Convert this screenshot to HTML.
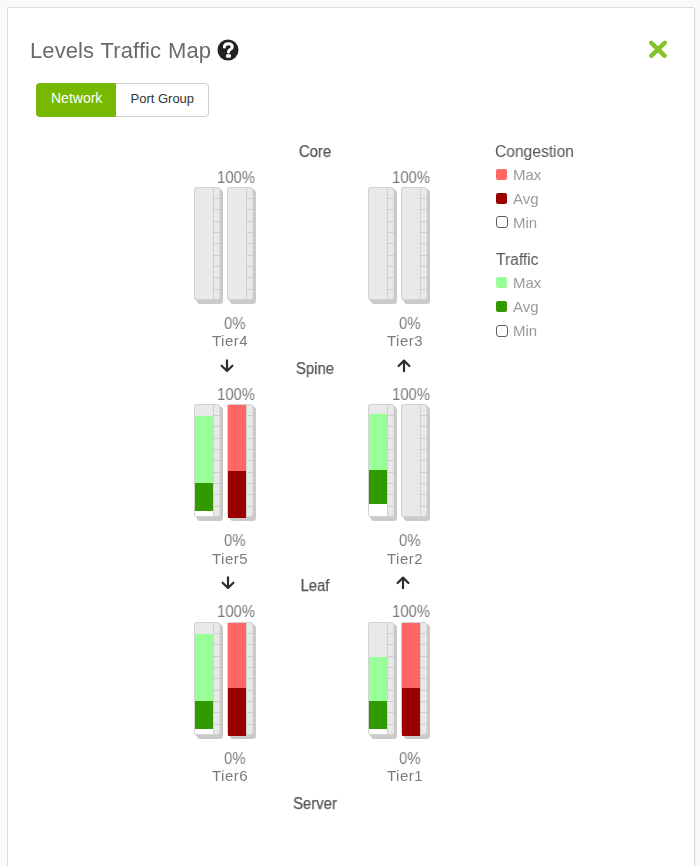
<!DOCTYPE html>
<html><head><meta charset="utf-8"><title>Levels Traffic Map</title>
<style>
html,body{margin:0;padding:0;}
body{width:700px;height:866px;overflow:hidden;background:#fafafa;font-family:"Liberation Sans",Arial,sans-serif;position:relative;}
.card{position:absolute;left:7px;top:7px;width:686px;height:870px;background:#fff;border:1px solid #dcdcdc;border-radius:2px;box-shadow:1px 1px 1px rgba(0,0,0,0.05);}
.t{position:absolute;line-height:1;white-space:nowrap;will-change:transform;}
.title{left:30px;top:40px;font-size:22px;color:#6a6a6a;letter-spacing:0.1px;word-spacing:0.6px;}
.help{position:absolute;left:217.2px;top:39.4px;width:22px;height:22px;will-change:transform;}
.close{position:absolute;left:648px;top:40.4px;width:20px;height:19px;}
.btn{position:absolute;line-height:1;box-sizing:border-box;top:83px;height:34px;}
.b1{left:36px;width:80px;background:#76b900;border-radius:4px 0 0 4px;font-size:14px;}
.b1 span{position:absolute;left:15px;top:8px;color:#fff;}
.b2{left:116px;width:93px;border:1px solid #cfcfcf;border-left:0;border-radius:0 4px 4px 0;font-size:13px;}
.b2 span{position:absolute;left:14.5px;top:7.5px;color:#333;}
.lvl{font-size:16px;color:#555;margin-top:0.5px;-webkit-text-stroke:0.25px #555;width:120px;text-align:center;left:255px;transform:scaleX(0.93);}
.pct{font-size:16px;color:#7a7a7a;transform-origin:0 0;transform:scaleX(0.93);}
.tier{font-size:15px;color:#7a7a7a;letter-spacing:0.5px;}
.bar{position:absolute;width:24px;height:111px;border:1px solid #d2d2d2;border-right-color:#dedede;border-radius:3px;background:#e9e9e9;box-shadow:1px 1px 0 #cacaca,2px 2px 0 #cacaca,3px 3px 0 #cacaca,3px 4px 0 #cacaca;}
.bar .dv{position:absolute;left:18px;top:0;bottom:0;width:1px;background:#d0d0d0;}
.bar .tk{position:absolute;left:19px;width:6px;height:1px;background:#cdcdcd;}
.fill{position:absolute;}
.lg{font-size:16px;color:#555;transform-origin:0 0;transform:scaleX(0.975);}
.li{font-size:15px;color:#9a9a9a;}
.sq{position:absolute;width:11px;height:11px;border-radius:2px;box-sizing:border-box;}
.sqm{width:12px;height:12px;border:1.8px solid #5c6064;border-radius:3px;background:#fff;}
</style></head>
<body>
<div class="card"></div>
<div class="t title">Levels Traffic Map</div>
<svg class="help" viewBox="0 0 22 22"><circle cx="11" cy="11" r="10.5" fill="#222"/><path d="M7.4 8.1 C7.4 5.8 9.2 4.7 11.3 4.7 C13.6 4.7 15.3 5.9 15.3 7.9 C15.3 10.4 11.5 10.3 11.5 12.9" stroke="#fff" stroke-width="3" fill="none" stroke-linecap="round"/><rect x="9" y="15.3" width="4.9" height="3.5" rx="1" fill="#fff"/></svg>
<svg class="close" viewBox="0 0 20 19"><path d="M3.3 2.8 L16.7 15.8 M16.7 2.8 L3.3 15.8" stroke="#84c22a" stroke-width="4.4" stroke-linecap="round"/></svg>
<div class="btn b1"><span>Network</span></div><div class="btn b2"><span>Port Group</span></div>
<div class="t lvl" style="top:143.2px">Core</div>
<div class="t lvl" style="top:360.4px">Spine</div>
<div class="t lvl" style="top:577.8px">Leaf</div>
<div class="t lvl" style="top:795.3px">Server</div>
<div class="bar" style="left:194px;top:187.0px"><div class="dv"></div><div class="tk" style="top:10px"></div><div class="tk" style="top:21px"></div><div class="tk" style="top:33px"></div><div class="tk" style="top:44px"></div><div class="tk" style="top:55px"></div><div class="tk" style="top:67px"></div><div class="tk" style="top:78px"></div><div class="tk" style="top:89px"></div><div class="tk" style="top:101px"></div></div>
<div class="bar" style="left:227px;top:187.0px"><div class="dv"></div><div class="tk" style="top:10px"></div><div class="tk" style="top:21px"></div><div class="tk" style="top:33px"></div><div class="tk" style="top:44px"></div><div class="tk" style="top:55px"></div><div class="tk" style="top:67px"></div><div class="tk" style="top:78px"></div><div class="tk" style="top:89px"></div><div class="tk" style="top:101px"></div></div>
<div class="t pct" style="left:217px;top:169.6px">100%</div>
<div class="t pct" style="left:223.5px;top:315.7px">0%</div>
<div class="t tier" style="left:211.5px;top:333.2px">Tier4</div>
<div class="bar" style="left:368px;top:187.0px"><div class="dv"></div><div class="tk" style="top:10px"></div><div class="tk" style="top:21px"></div><div class="tk" style="top:33px"></div><div class="tk" style="top:44px"></div><div class="tk" style="top:55px"></div><div class="tk" style="top:67px"></div><div class="tk" style="top:78px"></div><div class="tk" style="top:89px"></div><div class="tk" style="top:101px"></div></div>
<div class="bar" style="left:401px;top:187.0px"><div class="dv"></div><div class="tk" style="top:10px"></div><div class="tk" style="top:21px"></div><div class="tk" style="top:33px"></div><div class="tk" style="top:44px"></div><div class="tk" style="top:55px"></div><div class="tk" style="top:67px"></div><div class="tk" style="top:78px"></div><div class="tk" style="top:89px"></div><div class="tk" style="top:101px"></div></div>
<div class="t pct" style="left:392px;top:169.6px">100%</div>
<div class="t pct" style="left:398.5px;top:315.7px">0%</div>
<div class="t tier" style="left:386.5px;top:333.2px">Tier3</div>
<div class="bar" style="left:194px;top:404.4px"><div class="dv"></div><div class="tk" style="top:10px"></div><div class="tk" style="top:21px"></div><div class="tk" style="top:33px"></div><div class="tk" style="top:44px"></div><div class="tk" style="top:55px"></div><div class="tk" style="top:67px"></div><div class="tk" style="top:78px"></div><div class="tk" style="top:89px"></div><div class="tk" style="top:101px"></div></div><div class="fill" style="left:195px;top:416px;width:18px;height:67px;background:#99ff99"></div><div class="fill" style="left:195px;top:483px;width:18px;height:28px;background:#339900"></div><div class="fill" style="left:195px;top:511px;width:18px;height:5px;background:#fff"></div>
<div class="bar" style="left:227px;top:404.4px"><div class="dv"></div><div class="tk" style="top:10px"></div><div class="tk" style="top:21px"></div><div class="tk" style="top:33px"></div><div class="tk" style="top:44px"></div><div class="tk" style="top:55px"></div><div class="tk" style="top:67px"></div><div class="tk" style="top:78px"></div><div class="tk" style="top:89px"></div><div class="tk" style="top:101px"></div></div><div class="fill" style="left:228px;top:405px;width:18px;height:66px;background:#ff6666"></div><div class="fill" style="left:228px;top:471px;width:18px;height:47px;background:#990000"></div>
<div class="t pct" style="left:217px;top:387.0px">100%</div>
<div class="t pct" style="left:223.5px;top:533.1px">0%</div>
<div class="t tier" style="left:211.5px;top:550.6px">Tier5</div>
<div class="bar" style="left:368px;top:404.4px"><div class="dv"></div><div class="tk" style="top:10px"></div><div class="tk" style="top:21px"></div><div class="tk" style="top:33px"></div><div class="tk" style="top:44px"></div><div class="tk" style="top:55px"></div><div class="tk" style="top:67px"></div><div class="tk" style="top:78px"></div><div class="tk" style="top:89px"></div><div class="tk" style="top:101px"></div></div><div class="fill" style="left:369px;top:414px;width:18px;height:56px;background:#99ff99"></div><div class="fill" style="left:369px;top:470px;width:18px;height:34px;background:#339900"></div><div class="fill" style="left:369px;top:504px;width:18px;height:12px;background:#fff"></div>
<div class="bar" style="left:401px;top:404.4px"><div class="dv"></div><div class="tk" style="top:10px"></div><div class="tk" style="top:21px"></div><div class="tk" style="top:33px"></div><div class="tk" style="top:44px"></div><div class="tk" style="top:55px"></div><div class="tk" style="top:67px"></div><div class="tk" style="top:78px"></div><div class="tk" style="top:89px"></div><div class="tk" style="top:101px"></div></div>
<div class="t pct" style="left:392px;top:387.0px">100%</div>
<div class="t pct" style="left:398.5px;top:533.1px">0%</div>
<div class="t tier" style="left:386.5px;top:550.6px">Tier2</div>
<div class="bar" style="left:194px;top:621.8px"><div class="dv"></div><div class="tk" style="top:10px"></div><div class="tk" style="top:21px"></div><div class="tk" style="top:33px"></div><div class="tk" style="top:44px"></div><div class="tk" style="top:55px"></div><div class="tk" style="top:67px"></div><div class="tk" style="top:78px"></div><div class="tk" style="top:89px"></div><div class="tk" style="top:101px"></div></div><div class="fill" style="left:195px;top:634px;width:18px;height:67px;background:#99ff99"></div><div class="fill" style="left:195px;top:701px;width:18px;height:28px;background:#339900"></div><div class="fill" style="left:195px;top:729px;width:18px;height:5px;background:#fff"></div>
<div class="bar" style="left:227px;top:621.8px"><div class="dv"></div><div class="tk" style="top:10px"></div><div class="tk" style="top:21px"></div><div class="tk" style="top:33px"></div><div class="tk" style="top:44px"></div><div class="tk" style="top:55px"></div><div class="tk" style="top:67px"></div><div class="tk" style="top:78px"></div><div class="tk" style="top:89px"></div><div class="tk" style="top:101px"></div></div><div class="fill" style="left:228px;top:623px;width:18px;height:65px;background:#ff6666"></div><div class="fill" style="left:228px;top:688px;width:18px;height:48px;background:#990000"></div>
<div class="t pct" style="left:217px;top:604.4px">100%</div>
<div class="t pct" style="left:223.5px;top:750.5px">0%</div>
<div class="t tier" style="left:211.5px;top:768.0px">Tier6</div>
<div class="bar" style="left:368px;top:621.8px"><div class="dv"></div><div class="tk" style="top:10px"></div><div class="tk" style="top:21px"></div><div class="tk" style="top:33px"></div><div class="tk" style="top:44px"></div><div class="tk" style="top:55px"></div><div class="tk" style="top:67px"></div><div class="tk" style="top:78px"></div><div class="tk" style="top:89px"></div><div class="tk" style="top:101px"></div></div><div class="fill" style="left:369px;top:657px;width:18px;height:44px;background:#99ff99"></div><div class="fill" style="left:369px;top:701px;width:18px;height:28px;background:#339900"></div><div class="fill" style="left:369px;top:729px;width:18px;height:5px;background:#fff"></div>
<div class="bar" style="left:401px;top:621.8px"><div class="dv"></div><div class="tk" style="top:10px"></div><div class="tk" style="top:21px"></div><div class="tk" style="top:33px"></div><div class="tk" style="top:44px"></div><div class="tk" style="top:55px"></div><div class="tk" style="top:67px"></div><div class="tk" style="top:78px"></div><div class="tk" style="top:89px"></div><div class="tk" style="top:101px"></div></div><div class="fill" style="left:402px;top:623px;width:18px;height:65px;background:#ff6666"></div><div class="fill" style="left:402px;top:688px;width:18px;height:48px;background:#990000"></div>
<div class="t pct" style="left:392px;top:604.4px">100%</div>
<div class="t pct" style="left:398.5px;top:750.5px">0%</div>
<div class="t tier" style="left:386.5px;top:768.0px">Tier1</div>
<svg style="position:absolute;left:218.5px;top:357.5px" width="16" height="16" viewBox="0 0 16 16"><path d="M8 2.4 V13 M2.6 7.7 L8 13 L13.4 7.7" fill="none" stroke="#2b2e31" stroke-width="2.2" stroke-linecap="round" stroke-linejoin="round"/></svg>
<svg style="position:absolute;left:395.7px;top:357.5px" width="16" height="16" viewBox="0 0 16 16"><path d="M8 13.2 V2.6 M2.6 8 L8 2.6 L13.4 8" fill="none" stroke="#2b2e31" stroke-width="2.2" stroke-linecap="round" stroke-linejoin="round"/></svg>
<svg style="position:absolute;left:219.5px;top:574.8px" width="16" height="16" viewBox="0 0 16 16"><path d="M8 2.4 V13 M2.6 7.7 L8 13 L13.4 7.7" fill="none" stroke="#2b2e31" stroke-width="2.2" stroke-linecap="round" stroke-linejoin="round"/></svg>
<svg style="position:absolute;left:394.9px;top:575.2px" width="16" height="16" viewBox="0 0 16 16"><path d="M8 13.2 V2.6 M2.6 8 L8 2.6 L13.4 8" fill="none" stroke="#2b2e31" stroke-width="2.2" stroke-linecap="round" stroke-linejoin="round"/></svg>
<div class="t lg" style="left:495px;top:143.5px">Congestion</div><div class="sq" style="left:496px;top:168.6px;background:#ff6666"></div><div class="t li" style="left:512.5px;top:166.6px">Max</div><div class="sq" style="left:496px;top:192.7px;background:#990000"></div><div class="t li" style="left:512.5px;top:190.6px">Avg</div><div class="sq sqm" style="left:496px;top:216px"></div><div class="t li" style="left:512.5px;top:214.6px">Min</div>
<div class="t lg" style="left:496px;top:252px">Traffic</div><div class="sq" style="left:496px;top:277.4px;background:#99ff99"></div><div class="t li" style="left:512.5px;top:275.4px">Max</div><div class="sq" style="left:496px;top:301.3px;background:#339900"></div><div class="t li" style="left:512.5px;top:299.4px">Avg</div><div class="sq sqm" style="left:496px;top:324.8px"></div><div class="t li" style="left:512.5px;top:323.4px">Min</div>
</body></html>
